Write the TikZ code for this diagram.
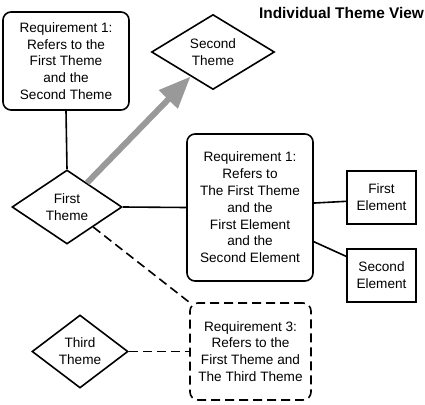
\documentclass[tikz,border=0pt]{standalone}
\usepackage{fontspec}
\setmainfont{Liberation Sans}
\usetikzlibrary{shapes.geometric,arrows.meta,calc}
\definecolor{arrowgray}{RGB}{153,153,153}
\tikzset{
  txt/.style={font=\fontsize{13.6pt}{16.8pt}\selectfont, align=center},
  reqbox/.style={txt, draw, line width=1.6pt, rounded corners=8pt, inner sep=0pt},
  elbox/.style={txt, draw, line width=1.6pt, inner sep=0pt},
  theme/.style={txt, draw, diamond, line width=1.6pt, inner sep=0pt},
  conn/.style={line width=1.6pt},
  dconn/.style={line width=1.6pt, dash pattern=on 9pt off 5pt},
}
\begin{document}
\begin{tikzpicture}[x=1pt,y=-1pt]
\useasboundingbox (0,0) rectangle (425,404);
\node[font=\bfseries\fontsize{15.4pt}{18pt}\selectfont] (title) at (341.5,13) {Individual Theme View};
\node[reqbox, minimum width=126pt, minimum height=98pt] (req1) at (66,61)
  {Requirement 1:\\Refers to the\\First Theme\\and the\\Second Theme};
\node[theme, shape aspect=1.66, minimum width=123pt, minimum height=75pt] (second) at (213,52)
  {Second\\Theme};
\node[theme, shape aspect=1.5, minimum width=110pt, minimum height=74pt] (first) at (67,207)
  {First\\Theme};
\node[reqbox, minimum width=126pt, minimum height=147pt] (mid) at (250,207.5)
  {Requirement 1:\\Refers to\\The First Theme\\and the\\First Element\\and the\\Second Element};
\node[elbox, minimum width=69pt, minimum height=53pt] (el1) at (381.5,197.5) {First\\Element};
\node[elbox, minimum width=69pt, minimum height=53pt] (el2) at (381.5,275.5) {Second\\Element};
\node[reqbox, dash pattern=on 9pt off 5pt, minimum width=121pt, minimum height=97pt] (req3) at (250.5,351.5)
  {Requirement 3:\\Refers to the\\First Theme and\\The Third Theme};
\node[theme, shape aspect=1.3, minimum width=96pt, minimum height=73pt] (third) at (80,351.5)
  {Third\\Theme};

\draw[conn] (req1.south) -- (first.north);
\draw[line width=6pt, arrowgray, -{Triangle[length=32pt,width=25pt]}]
  ($(first.north)!0.36!(first.east)$) -- ($(second.west)!0.64!(second.south)$);
\draw[conn] (first.east) -- (mid.west);
\draw[conn] ($(mid.north east)!0.47!(mid.south east)$) -- ($(el1.north west)!0.57!(el1.south west)$);
\draw[conn] ($(mid.north east)!0.73!(mid.south east)$) -- ($(el2.north west)!0.15!(el2.south west)$);
\draw[dconn] ($(first.east)!0.53!(first.south)$) -- (req3.north west);
\draw[dconn] (third.east) -- (req3.west);
\end{tikzpicture}
\end{document}
